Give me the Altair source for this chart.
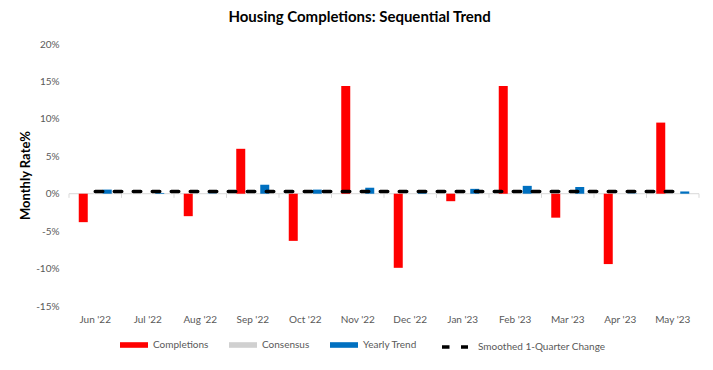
import altair as alt
import pandas as pd

months = ["Jun '22", "Jul '22", "Aug '22", "Sep '22", "Oct '22", "Nov '22",
          "Dec '22", "Jan '23", "Feb '23", "Mar '23", "Apr '23", "May '23"]
completions = [-3.8, 0.0, -3.0, 6.0, -6.3, 14.4, -9.9, -1.0, 14.4, -3.2, -9.4, 9.5]
consensus = [0.0, 0.0, 0.0, 0.0, 0.0, 0.0, 0.0, 0.0, 0.0, 0.0, 0.0, 0.0]
yearly_trend = [0.55, 0.1, 0.05, 1.2, 0.55, 0.8, 0.1, 0.65, 1.05, 0.9, 0.05, 0.3]
smoothed = [0.3, 0.3, 0.3, 0.3, 0.3, 0.3, 0.3, 0.3, 0.3, 0.3, 0.3, 0.3]
y_ticks = [-15, -10, -5, 0, 5, 10, 15, 20]

bar_series = ["Completions", "Consensus", "Yearly Trend"]
bar_colors = ["#FF0000", "#D0D0D0", "#0070C0"]
line_series = "Smoothed 1-Quarter Change"

FONT = "Lato"
GREY = "#595959"

bar_rows = []
for name, vals in zip(bar_series, [completions, consensus, yearly_trend]):
    for m, v in zip(months, vals):
        bar_rows.append({"month": m, "series": name, "value": v})
bar_df = pd.DataFrame(bar_rows)
line_df = pd.DataFrame({"month": months, "value": smoothed, "series": [line_series] * len(months)})
tick_df = pd.DataFrame({"month": months})
zero_df = pd.DataFrame({"z": [0]})

x_scale = alt.Scale(domain=months, paddingInner=0, paddingOuter=0)
y_scale = alt.Scale(domain=[-15, 20], nice=False)

x_axis = alt.Axis(title=None, domain=False, ticks=False, grid=False, labelAngle=0,
                  labelPadding=8, labelColor=GREY, labelFontSize=10, labelFont=FONT)
y_axis = alt.Axis(title="Monthly Rate%", values=y_ticks, labelExpr="datum.value + '%'",
                  domain=False, ticks=False, grid=False, labelPadding=10, labelOverlap=False,
                  labelColor=GREY, labelFontSize=10, labelFont=FONT,
                  titleFont=FONT, titleFontSize=13, titleFontWeight="bold",
                  titleColor="black", titlePadding=3)

zero_line = alt.Chart(zero_df).mark_rule(color="#D9D9D9", strokeWidth=1).encode(
    y=alt.Y("z:Q", scale=y_scale, axis=y_axis)
)

ticks = alt.Chart(tick_df).mark_rule(color="#D9D9D9", strokeWidth=1).encode(
    x=alt.X("month:N", sort=months, scale=x_scale, axis=x_axis, bandPosition=0),
    y=alt.YDatum(0, scale=y_scale, axis=y_axis),
    y2=alt.datum(-0.55),
)
end_tick = alt.Chart(tick_df).transform_filter(
    alt.datum.month == months[-1]
).mark_rule(color="#D9D9D9", strokeWidth=1).encode(
    x=alt.X("month:N", sort=months, scale=x_scale, axis=x_axis, bandPosition=1),
    y=alt.YDatum(0, scale=y_scale, axis=y_axis),
    y2=alt.datum(-0.55),
)

bars = alt.Chart(bar_df).mark_bar().encode(
    x=alt.X("month:N", sort=months, scale=x_scale, axis=x_axis),
    xOffset=alt.XOffset("series:N", sort=bar_series,
                        scale=alt.Scale(domain=bar_series, paddingInner=0.25, paddingOuter=0.8125)),
    y=alt.Y("value:Q", scale=y_scale, axis=y_axis),
    color=alt.Color("series:N", sort=bar_series,
                    scale=alt.Scale(domain=bar_series, range=bar_colors),
                    legend=alt.Legend(title=None, orient="none", legendX=51, legendY=287,
                                      direction="horizontal", padding=0,
                                      symbolType="M-1,-0.2H1V0.2H-1Z", symbolSize=784,
                                      symbolStrokeWidth=0, labelOffset=5, columnPadding=20,
                                      labelFont=FONT, labelFontSize=10, labelColor=GREY)),
)

line = alt.Chart(line_df).mark_line(color="black", strokeWidth=3.5, strokeCap="round").encode(
    x=alt.X("month:N", sort=months, scale=x_scale, axis=x_axis),
    y=alt.Y("value:Q", scale=y_scale, axis=y_axis),
    strokeDash=alt.StrokeDash("series:N", scale=alt.Scale(domain=[line_series], range=[[7.5, 11.5]]),
                              legend=alt.Legend(title=None, orient="none", legendX=371, legendY=288,
                                                padding=0, symbolType="stroke", symbolSize=676,
                                                symbolStrokeWidth=3.5, symbolStrokeColor="black",
                                                symbolDash=[10.5, 5], labelOffset=8,
                                                labelFont=FONT, labelFontSize=10, labelColor=GREY)),
)

chart = alt.layer(zero_line, ticks, end_tick, bars, line).properties(
    width=630,
    height=262,
    autosize=alt.AutoSizeParams(type="none"),
    padding={"left": 61, "top": 36, "right": 6, "bottom": 56},
    background="white",
    title=alt.TitleParams("Housing Completions: Sequential Trend", font=FONT, fontSize=15,
                          fontWeight="bold", color="black", anchor="middle", frame="bounds",
                          offset=14),
).configure_view(stroke=None).configure_axis(labelOverlap=False)

chart.save("out.html", embed_options={"renderer": "svg", "actions": False})
